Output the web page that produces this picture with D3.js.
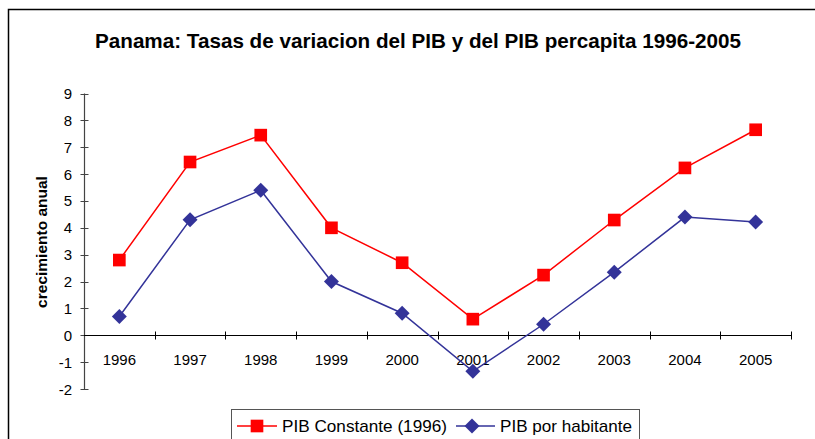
<!DOCTYPE html>
<html>
<head>
<meta charset="utf-8">
<script src="https://cdn.jsdelivr.net/npm/d3@7"></script>
<style>
  body { margin: 0; background: #fff; }
  svg { display: block; font-family: "Liberation Sans", Arial, sans-serif; }
</style>
</head>
<body>
<svg id="chart" width="815" height="439"></svg>
<script>
// data
var years = ['1996', '1997', '1998', '1999', '2000', '2001', '2002', '2003', '2004', '2005'];
var pibConstante = [2.8, 6.45, 7.45, 4.0, 2.7, 0.6, 2.24, 4.29, 6.23, 7.65];
var pibHabitante = [0.7, 4.3, 5.4, 2.0, 0.82, -1.34, 0.41, 2.35, 4.4, 4.22];
var yTicks = [9, 8, 7, 6, 5, 4, 3, 2, 1, 0, -1, -2];
var seriesNames = ['PIB Constante (1996)', 'PIB por habitante'];

var svg = d3.select('#chart');

// outer frame (top + left edges visible)
svg.append('path')
	.attr('d', 'M8.5,439 L8.5,9.5 L815,9.5')
	.attr('fill', 'none')
	.attr('stroke', '#000')
	.attr('stroke-width', 1.5);

svg.append('text')
	.attr('x', 418)
	.attr('y', 48)
	.attr('text-anchor', 'middle')
	.attr('font-weight', 'bold')
	.attr('font-size', 21)
	.attr('textLength', 646)
	.attr('lengthAdjust', 'spacingAndGlyphs')
	.text('Panama: Tasas de variacion del PIB y del PIB percapita 1996-2005');

var x = d3.scaleBand().domain(years).range([84, 791]);
var y = d3.scaleLinear().domain([-2, 9]).range([389, 93.5]);

// y axis
var yAxis = svg.append('g');
yAxis.append('line')
	.attr('x1', 84.5).attr('x2', 84.5)
	.attr('y1', y(9)).attr('y2', y(-2))
	.attr('stroke', '#444').attr('stroke-width', 1.2);
yAxis.selectAll('.yt').data(yTicks).enter().append('line')
	.attr('x1', 80.5).attr('x2', 88.5)
	.attr('y1', function(d) { return Math.round(y(d)) + 0.5; })
	.attr('y2', function(d) { return Math.round(y(d)) + 0.5; })
	.attr('stroke', '#444');
yAxis.selectAll('.yl').data(yTicks).enter().append('text')
	.attr('x', 72)
	.attr('y', function(d) { return y(d) + 5.5; })
	.attr('text-anchor', 'end')
	.attr('font-size', 15)
	.text(function(d) { return d; });

// x axis on zero
var y0 = Math.round(y(0)) + 0.5;
svg.append('line')
	.attr('x1', 84).attr('x2', 791)
	.attr('y1', y0).attr('y2', y0)
	.attr('stroke', '#000').attr('stroke-width', 1.2);
var bounds = years.map(function(d) { return x(d) + x.bandwidth(); });
svg.selectAll('.xt').data(bounds).enter().append('line')
	.attr('x1', function(d) { return Math.round(d) + 0.5; })
	.attr('x2', function(d) { return Math.round(d) + 0.5; })
	.attr('y1', y0 - 4).attr('y2', y0 + 4)
	.attr('stroke', '#000');
svg.selectAll('.xl').data(years).enter().append('text')
	.attr('x', function(d) { return x(d) + x.bandwidth() / 2; })
	.attr('y', 365)
	.attr('text-anchor', 'middle')
	.attr('font-size', 15)
	.text(function(d) { return d; });

// axis title
svg.append('text')
	.attr('transform', 'translate(47,242) rotate(-90)')
	.attr('text-anchor', 'middle')
	.attr('font-weight', 'bold')
	.attr('font-size', 15.5)
	.text('crecimiento anual');

var cx = function(d, i) { return x(years[i]) + x.bandwidth() / 2; };
var line = d3.line().x(cx).y(function(d) { return y(d); });

svg.append('path')
	.attr('d', line(pibConstante))
	.attr('fill', 'none')
	.attr('stroke', '#ff0000')
	.attr('stroke-width', 1.5);
svg.append('path')
	.attr('d', line(pibHabitante))
	.attr('fill', 'none')
	.attr('stroke', '#333399')
	.attr('stroke-width', 1.5);

var square = d3.symbol().type(d3.symbolSquare).size(160);
var diamond = d3.symbol().type(d3.symbolSquare).size(112);

svg.selectAll('.sq').data(pibConstante).enter().append('path')
	.attr('d', square)
	.attr('transform', function(d, i) { return 'translate(' + cx(d, i) + ',' + y(d) + ')'; })
	.attr('fill', '#ff0000');
svg.selectAll('.dm').data(pibHabitante).enter().append('path')
	.attr('d', diamond)
	.attr('transform', function(d, i) { return 'translate(' + cx(d, i) + ',' + y(d) + ') rotate(45)'; })
	.attr('fill', '#333399');

// legend
var lg = svg.append('g');
lg.append('rect')
	.attr('x', 231.5).attr('y', 409.5)
	.attr('width', 408).attr('height', 40)
	.attr('fill', '#fff')
	.attr('stroke', '#555');
lg.append('line').attr('x1', 237).attr('x2', 277).attr('y1', 426).attr('y2', 426)
	.attr('stroke', '#ff0000').attr('stroke-width', 1.5);
lg.append('path').attr('d', square).attr('transform', 'translate(257,426)').attr('fill', '#ff0000');
lg.append('text').attr('x', 282).attr('y', 432).attr('font-size', 17)
	.attr('textLength', 165).attr('lengthAdjust', 'spacingAndGlyphs').text(seriesNames[0]);
lg.append('line').attr('x1', 456).attr('x2', 495).attr('y1', 426).attr('y2', 426)
	.attr('stroke', '#333399').attr('stroke-width', 1.5);
lg.append('path').attr('d', diamond).attr('transform', 'translate(472,426) rotate(45)').attr('fill', '#333399');
lg.append('text').attr('x', 500).attr('y', 432).attr('font-size', 17)
	.attr('textLength', 132).attr('lengthAdjust', 'spacingAndGlyphs').text(seriesNames[1]);
</script>
</body>
</html>
